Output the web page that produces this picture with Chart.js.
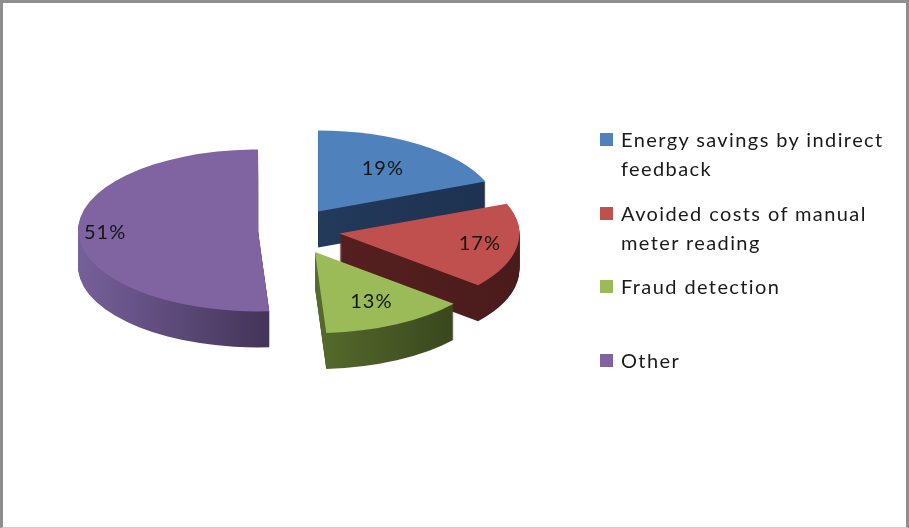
<!DOCTYPE html>
<html>
<head>
<meta charset="utf-8">
<script src="https://cdn.jsdelivr.net/npm/chart.js@4.4.1/dist/chart.umd.min.js"></script>
<style>
  html, body { margin: 0; padding: 0; background: #fff; }
  #stage { position: relative; width: 909px; height: 528px; overflow: hidden; background: #fff; }
  #pie { position: absolute; left: 0; top: 0; }
  #frame {
    position: absolute; left: 0; top: 0; width: 909px; height: 528px; box-sizing: border-box;
    border-top: 3px solid #8e8e8e; border-left: 3px solid #8e8e8e;
    border-right: 3px solid #8e8e8e; border-bottom: 1px solid #cdcdcd;
    pointer-events: none;
  }
  #legend { position: absolute; left: 600px; top: 125px; width: 300px; margin: 0; padding: 0; list-style: none;
    font-family: Lato, "Open Sans", sans-serif; font-size: 20px; line-height: 29px; color: #1a1a1a;
    letter-spacing: 1.4px; }
  #legend li { position: relative; height: 73.7px; padding-left: 21px; }
  #legend li span.box { position: absolute; left: 0; top: 8px; width: 13px; height: 13px; }
  #legend li span.txt { display: block; width: 272px; }
</style>
</head>
<body>
<div id="stage">
  <canvas id="pie" width="909" height="528"></canvas>
  <ul id="legend"></ul>
  <div id="frame"></div>
</div>
<script>
// Benefit categories and their shares (percent)
const categories = [
  'Energy savings by indirect feedback',
  'Avoided costs of manual meter reading',
  'Fraud detection',
  'Other'
];
const shares = [19, 17, 13, 51];

// Top-face colours and [left, right] wall shades
const faceColors = ['#4f81bd', '#c0504d', '#9bbb59', '#8064a2'];
const wallColors = [
  ['#233a5b', '#1e3150'],
  ['#561f1f', '#4a1b1b'],
  ['#566b2c', '#3a471e'],
  ['#76609a', '#433458']
];

// 3D look: vertical squash, wall depth, explode distance and label radius per slice
const TILT = 0.45;
const DEPTH = 36;
const explode = [50, 50, 55, 32];
const labelDist = [0.64, 0.79, 0.69, 0.85];
const drawOrder = [3, 0, 1, 2];

function placeSlice(c, i, el, cy, dy) {
  const mid = (el.startAngle + el.endAngle) / 2;
  c.translate(explode[i] * Math.cos(mid), explode[i] * Math.sin(mid) * TILT + dy);
  c.translate(0, cy);
  c.scale(1, TILT);
  c.translate(0, -cy);
}

function sliceXRange(i, el) {
  const mid = (el.startAngle + el.endAngle) / 2;
  const vx = el.x + explode[i] * Math.cos(mid);
  let lo = vx, hi = vx;
  for (let t = 0; t <= 60; t++) {
    const a = el.startAngle + (el.endAngle - el.startAngle) * t / 60;
    const x = vx + el.outerRadius * Math.cos(a);
    lo = Math.min(lo, x); hi = Math.max(hi, x);
  }
  return [lo, hi];
}

const pie3d = {
  id: 'pie3d',
  beforeDatasetsDraw(chart) {
    const ctx = chart.ctx;
    const meta = chart.getDatasetMeta(0);
    const cy = meta.data[0].y;

    // side walls: stacked copies of each slice, recoloured
    drawOrder.forEach(i => {
      const el = meta.data[i];
      const off = document.createElement('canvas');
      off.width = chart.canvas.width;
      off.height = chart.canvas.height;
      const o = off.getContext('2d');
      for (let k = DEPTH; k >= 1; k--) {
        o.save();
        placeSlice(o, i, el, cy, k);
        el.draw(o);
        o.restore();
      }
      o.globalCompositeOperation = 'source-in';
      const [x0, x1] = sliceXRange(i, el);
      const g = o.createLinearGradient(x0, 0, x1, 0);
      g.addColorStop(0, wallColors[i][0]);
      g.addColorStop(1, wallColors[i][1]);
      o.fillStyle = g;
      o.fillRect(0, 0, off.width, off.height);
      ctx.drawImage(off, 0, 0, chart.width, chart.height);
    });

    // top faces
    drawOrder.forEach(i => {
      const el = meta.data[i];
      ctx.save();
      placeSlice(ctx, i, el, cy, 0);
      el.draw(ctx);
      ctx.restore();
    });

    // percentage labels
    ctx.save();
    ctx.font = '20px Lato, "Open Sans", sans-serif';
    ctx.letterSpacing = '1px';
    ctx.fillStyle = '#151515';
    ctx.textAlign = 'center';
    ctx.textBaseline = 'middle';
    meta.data.forEach((el, i) => {
      const mid = (el.startAngle + el.endAngle) / 2;
      const r = labelDist[i] * el.outerRadius + explode[i];
      ctx.fillText(shares[i] + '%', el.x + r * Math.cos(mid), cy + r * Math.sin(mid) * TILT);
    });
    ctx.restore();
    return false;
  }
};

new Chart(document.getElementById('pie'), {
  type: 'pie',
  data: {
    labels: categories,
    datasets: [{
      data: shares,
      backgroundColor: faceColors,
      borderWidth: 0
    }]
  },
  options: {
    responsive: false,
    animation: false,
    devicePixelRatio: 1,
    radius: 180,
    layout: { padding: { left: 0, right: 329, top: 0, bottom: 68 } },
    plugins: { legend: { display: false }, tooltip: { enabled: false } }
  },
  plugins: [pie3d]
});

// legend
const legend = document.getElementById('legend');
categories.forEach((name, i) => {
  const li = document.createElement('li');
  const box = document.createElement('span');
  box.className = 'box';
  box.style.background = faceColors[i];
  const txt = document.createElement('span');
  txt.className = 'txt';
  txt.textContent = name;
  li.appendChild(box);
  li.appendChild(txt);
  legend.appendChild(li);
});
</script>
</body>
</html>
